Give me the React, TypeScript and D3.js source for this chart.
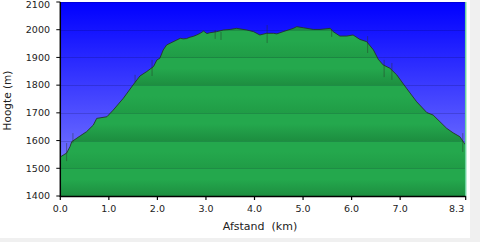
import React from "react";
import * as d3 from "d3";

// Elevation profile (distance in km, elevation in m)
const distanceKm = [
  0, 0.13, 0.2, 0.235, 0.41, 0.54, 0.68, 0.75, 0.96, 1.09, 1.3, 1.5, 1.64, 1.78, 1.92, 1.99,
  2.05, 2.12, 2.19, 2.26, 2.4, 2.47, 2.53, 2.6, 2.67, 2.74, 2.81, 2.88, 2.95, 3.02, 3.08, 3.22,
  3.36, 3.5, 3.63, 3.84, 3.98, 4.11, 4.25, 4.39, 4.46, 4.59, 4.8, 4.87, 5.01, 5.08, 5.21, 5.35,
  5.56, 5.62, 5.76, 5.9, 6.03, 6.17, 6.31, 6.45, 6.55, 6.65, 6.79, 6.93, 7.13, 7.34, 7.55, 7.68,
  7.82, 7.96, 8.09, 8.23, 8.3, 8.35,
];
const elevationM = [
  1541, 1555, 1578, 1596, 1617, 1632, 1656, 1680, 1686, 1710, 1753, 1801, 1833, 1849, 1867, 1891,
  1897, 1927, 1945, 1951, 1963, 1969, 1967, 1968, 1973, 1976, 1981, 1987, 1995, 1986, 1989, 1993,
  1999, 2001, 2005, 1999, 1993, 1981, 1987, 1987, 1985, 1993, 2005, 2011, 2007, 2005, 2001, 2001,
  2005, 1993, 1977, 1977, 1981, 1965, 1957, 1927, 1893, 1873, 1861, 1837, 1789, 1740, 1701, 1692,
  1668, 1644, 1628, 1614, 1596, 1584,
];

// Short GPS glitches (vertical spikes)
const spikeKm = [0.13, 0.26, 1.54, 1.89, 3.19, 3.31, 4.26, 5.59, 6.33, 6.67, 6.83, 8.29];
const spikeTopM = [1591, 1627, 1837, 1891, 1999, 1992, 2017, 2003, 1977, 1891, 1880, 1627];
const spikeBottomM = [1526, 1591, 1811, 1833, 1967, 1963, 1952, 1974, 1916, 1829, 1819, 1559];

const yTickValues = [1400, 1500, 1600, 1700, 1800, 1900, 2000, 2100];
const xTickValues = [0, 1, 2, 3, 4, 5, 6, 7, 8.35];
const xTickLabels = ["0.0", "1.0", "2.0", "3.0", "4.0", "5.0", "6.0", "7.0", "8.3"];
const xMax = 8.35;
const yMin = 1400;
const yMax = 2100;

export default function App() {
  const W = 480;
  const H = 242;
  const left = 60.3;
  const right = 465.7;
  const top = 2;
  const bottom = 196;

  const x = d3.scaleLinear().domain([0, xMax]).range([left, right]);
  const y = d3.scaleLinear().domain([yMin, yMax]).range([bottom, top]);

  const pts: [number, number][] = distanceKm.map((d, i) => [d, elevationM[i]]);
  const area = d3
    .area<[number, number]>()
    .x((p) => x(p[0]))
    .y0(y(yMin))
    .y1((p) => y(p[1]));
  const line = d3
    .line<[number, number]>()
    .x((p) => x(p[0]))
    .y((p) => y(p[1]));

  // banded green gradient
  const light = "#24a84d";
  const strongDark = "#1d8e40";
  const weakDark = "#209c46";
  const stops: { off: number; col: string }[] = [];
  const off = (v: number) => (y(v) - top) / (bottom - top);
  for (let v = 2000; v >= 1400; v -= 100) {
    const t = off(v + 100);
    const b = off(v);
    const dark = v % 200 === 0 ? strongDark : weakDark;
    stops.push({ off: t + 0.001, col: light });
    stops.push({ off: t + (b - t) * 0.4, col: light });
    stops.push({ off: b, col: dark });
  }

  const font = "'DejaVu Sans', Verdana, sans-serif";

  return (
    <svg
      width={W}
      height={H}
      style={{ position: "fixed", left: 0, top: 0, display: "block", background: "#ffffff" }}
    >
      <defs>
        <linearGradient id="sky" gradientUnits="userSpaceOnUse" x1={0} y1={top} x2={0} y2={bottom}>
          <stop offset="0" stopColor="#0000ff" />
          <stop offset="1" stopColor="#8a8aff" />
        </linearGradient>
        <linearGradient id="ground" gradientUnits="userSpaceOnUse" x1={0} y1={top} x2={0} y2={bottom}>
          {stops.map((s, i) => (
            <stop key={i} offset={Math.max(0, Math.min(1, s.off))} stopColor={s.col} />
          ))}
        </linearGradient>
      </defs>

      <rect x={0} y={0} width={W} height={H} fill="#ffffff" />
      <rect x={470} y={0} width={10} height={H} fill="#f0f0f0" />
      <rect x={0} y={238} width={W} height={4} fill="#f0f0f0" />

      <rect x={left} y={top} width={right - left} height={bottom - top} fill="url(#sky)" />
      <path d={area(pts) || ""} fill="url(#ground)" />

      {yTickValues.slice(1).map((v) => (
        <line
          key={v}
          x1={left}
          x2={right}
          y1={Math.round(y(v)) + 0.5}
          y2={Math.round(y(v)) + 0.5}
          stroke="rgba(0,0,30,0.16)"
          strokeWidth={1}
        />
      ))}

      {spikeKm.map((d, i) => (
        <line
          key={i}
          x1={x(d)}
          x2={x(d)}
          y1={y(spikeTopM[i])}
          y2={y(spikeBottomM[i])}
          stroke="rgba(40,50,40,0.45)"
          strokeWidth={1}
        />
      ))}

      <path d={line(pts) || ""} fill="none" stroke="#233323" strokeOpacity={0.85} strokeWidth={1} />

      <line x1={right} x2={right} y1={top} y2={bottom} stroke="#6fd3a0" strokeWidth={1.5} />

      {/* axes */}
      <line x1={left} x2={left} y1={top} y2={bottom + 1} stroke="#000" strokeWidth={1.5} />
      <line x1={left} x2={right} y1={bottom + 0.5} y2={bottom + 0.5} stroke="#000" strokeWidth={1.5} />
      {yTickValues.map((v) => (
        <g key={v}>
          <line x1={left - 4} x2={left} y1={y(v)} y2={y(v)} stroke="#000" strokeWidth={1} />
          <text
            x={50}
            y={Math.max(y(v), 5)}
            dy="0.35em"
            textAnchor="end"
            fontFamily={font}
            fontSize={9.5}
            fill="#222"
          >
            {v}
          </text>
        </g>
      ))}
      {xTickValues.map((v, i) => (
        <g key={v}>
          <line x1={x(v)} x2={x(v)} y1={bottom} y2={bottom + 4} stroke="#000" strokeWidth={1.2} />
          <text
            x={i === xTickValues.length - 1 ? x(v) - 1.5 : x(v)}
            y={211.5}
            textAnchor={i === xTickValues.length - 1 ? "end" : "middle"}
            fontFamily={font}
            fontSize={9.5}
            fill="#222"
          >
            {xTickLabels[i]}
          </text>
        </g>
      ))}

      <text
        x={260}
        y={229.5}
        textAnchor="middle"
        fontFamily={font}
        fontSize={11}
        fill="#222"
        style={{ whiteSpace: "pre" }}
      >
        {"Afstand  (km)"}
      </text>
      <text
        transform={`translate(10.5,100.5) rotate(-90)`}
        textAnchor="middle"
        fontFamily={font}
        fontSize={10.5}
        fill="#222"
      >
        Hoogte (m)
      </text>
    </svg>
  );
}
